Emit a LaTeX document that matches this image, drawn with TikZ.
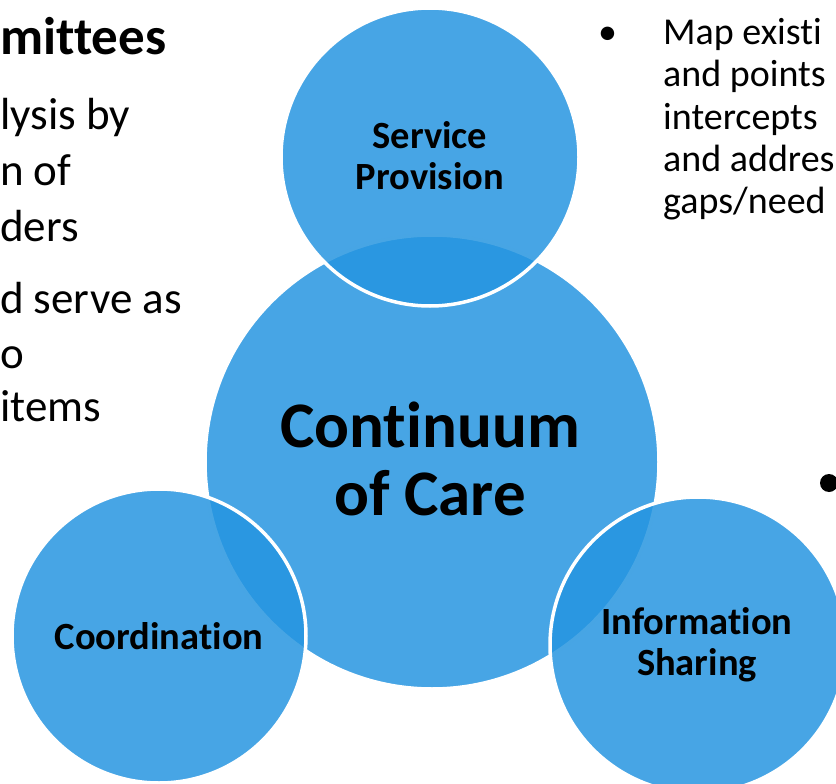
\documentclass[tikz,border=0pt]{standalone}
\usepackage{fontspec}
\setmainfont{Carlito}[Ligatures=NoCommon,RawFeature={-liga;-clig}]
\definecolor{cblue}{RGB}{36,148,224}
\tikzset{
  bubble/.style={circle, fill=cblue, fill opacity=0.84, draw=white, line width=3.5pt, inner sep=0pt},
  lab/.style={align=center, text=black, inner sep=0pt},
  body/.style={anchor=base west, inner sep=0pt, text=black, font=\fontsize{45}{54}\selectfont},
  rbody/.style={anchor=base west, inner sep=0pt, text=black, font=\fontsize{38}{42}\selectfont}
}
\begin{document}
\begin{tikzpicture}[x=1pt,y=-1pt]
\useasboundingbox (0,0) rectangle (836,784);
\clip (0,0) rectangle (836,784);
% circles
\node[bubble, minimum size=454pt] (care) at (432,462) {};
\node[bubble, minimum size=298pt] (serv) at (430,157) {};
\node[bubble, minimum size=294pt] (coord) at (159,636) {};
\node[bubble, minimum size=296pt] (info) at (698,645) {};
% labels
\node[lab, font=\bfseries\fontsize{65}{68}\selectfont] (caretxt) at (430,459) {Continuum\\of Care};
\node[lab, font=\bfseries\fontsize{38.5}{41}\selectfont] (servtxt) at (430,156) {Service\\Provision};
\node[lab, font=\bfseries\fontsize{38.5}{41}\selectfont] (coordtxt) at (159,636) {Coordination};
\node[lab, font=\bfseries\fontsize{38.5}{41}\selectfont] (infotxt) at (697,645) {Information\\Sharing};
% left text
\node[body, font=\bfseries\fontsize{53}{58}\selectfont] (t0) at (0,55) {mittees};
\node[body] (t1) at (0,129) {lysis by};
\node[body] (t2) at (0,185) {n of};
\node[body] (t3) at (0,241) {ders};
\node[body] (t4) at (0,313) {d serve as};
\node[body] (t5) at (0,368) {o};
\node[body] (t6) at (0,421) {items};
% right text
\node[rbody] (bul) at (598,45) {•};
\node[rbody] (r1) at (663,45) {Map existi};
\node[rbody] (r2) at (663,87) {and points};
\node[rbody] (r3) at (663,129) {intercepts};
\node[rbody] (r4) at (663,171) {and addres};
\node[rbody] (r5) at (663,213) {gaps/need};
\fill (829,483) circle (9pt) coordinate (dot);
\end{tikzpicture}
\end{document}
